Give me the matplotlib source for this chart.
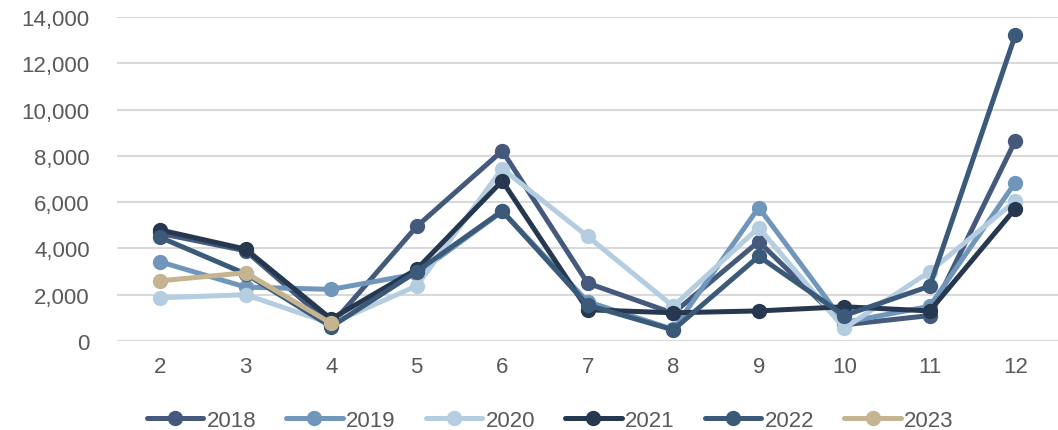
import matplotlib.pyplot as plt
from matplotlib.ticker import FuncFormatter

plt.rcParams['font.family'] = ['Liberation Sans', 'DejaVu Sans']

months = [2, 3, 4, 5, 6, 7, 8, 9, 10, 11, 12]
y2018 = [4650, 3900, 700, 4950, 8220, 2500, 1200, 4300, 700, 1100, 8650]
y2019 = [3420, 2330, 2230, 2900, 5600, 1700, 500, 5770, 800, 1500, 6850]
y2020 = [1870, 2000, 750, 2380, 7450, 4520, 1500, 4900, 550, 3000, 6050]
y2021 = [4800, 3970, 950, 3100, 6920, 1350, 1220, 1300, 1480, 1300, 5720]
y2022 = [4480, 2900, 620, 3000, 5620, 1550, 480, 3660, 1100, 2370, 13220]
months2023 = [2, 3, 4]
y2023 = [2600, 2950, 760]

series = [
    ('2018', months, y2018, '#44597c'),
    ('2019', months, y2019, '#7097bb'),
    ('2020', months, y2020, '#b5cde1'),
    ('2021', months, y2021, '#263750'),
    ('2022', months, y2022, '#3b5a7a'),
    ('2023', months2023, y2023, '#c4b48f'),
]

fig = plt.figure(figsize=(10.58, 4.31), dpi=100)
ax = fig.add_axes([0.111, 0.2065, 0.889, 0.7515])

for label, x, y, color in series:
    ax.plot(x, y, color=color, linewidth=3.6, marker='o', markersize=10,
            label=label, solid_capstyle='round')

ax.set_xlim(1.5, 12.5)
ax.set_ylim(0, 14000)
ax.set_xticks(months)
ax.set_yticks(range(0, 14001, 2000))
ax.yaxis.set_major_formatter(FuncFormatter(lambda v, p: f'{int(v):,}'))
ax.grid(axis='y', color='#d9d9d9', linewidth=1.5)
ax.set_axisbelow(True)
for s in ax.spines.values():
    s.set_visible(False)
ax.tick_params(length=0, labelsize=16, colors='#595959')
ax.tick_params(axis='y', pad=20)
ax.tick_params(axis='x', pad=11)

fig.legend(loc='center', bbox_to_anchor=(0.52, 0.022), ncol=6,
           frameon=False, fontsize=16, labelcolor='#595959',
           handlelength=2.55, columnspacing=1.35, handletextpad=0.15,
           borderaxespad=0, borderpad=0)

plt.savefig('out.png')
